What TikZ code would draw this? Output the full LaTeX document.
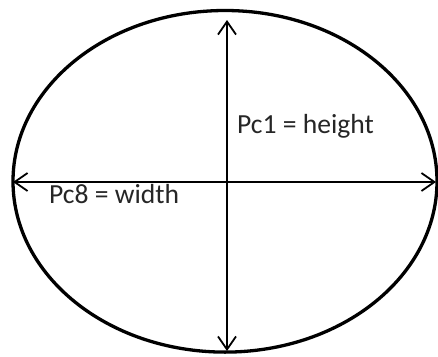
\documentclass[tikz,border=0pt]{standalone}
\usepackage{fontspec}
\setmainfont{Carlito}
\usetikzlibrary{arrows.meta,shapes.geometric}
\begin{document}
\begin{tikzpicture}[x=1pt,y=-1pt,
  axis/.style={line width=1.8pt,-{Straight Barb[length=13pt,width=18pt,line width=1.8pt]}},
  lbl/.style={font=\fontsize{27.6}{32}\selectfont, text=black!85, inner sep=0pt, anchor=base west}]
\useasboundingbox (0,0) rectangle (438,356);
\fill[white] (0,0) rectangle (438,356);
\draw[line width=3.3pt] (225,181.3) ellipse [x radius=212, y radius=170.8];
\coordinate (c) at (227,182);
\coordinate (t) at (227,20);
\coordinate (b) at (227,351);
\coordinate (l) at (13,182);
\coordinate (r) at (436,182);
\draw[axis] (c) -- (t);
\draw[axis] (c) -- (b);
\draw[axis] (c) -- (l);
\draw[axis] (c) -- (r);
\node[lbl] (h) at (237,133) {Pc1 = height};
\node[lbl] (w) at (49,203) {Pc8 = width};
\end{tikzpicture}
\end{document}
